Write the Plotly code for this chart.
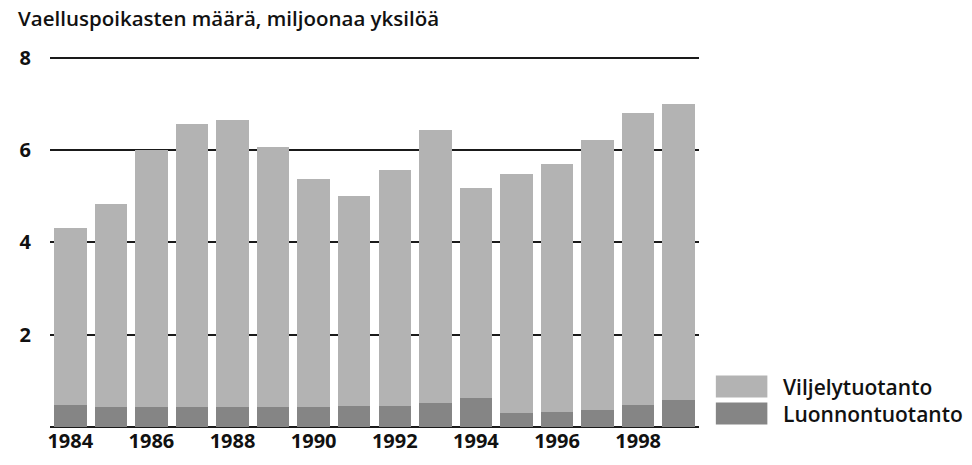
import plotly.graph_objects as go

years = list(range(1984, 2000))
total = [4.31, 4.83, 6.00, 6.56, 6.65, 6.06, 5.37, 5.00, 5.56, 6.43, 5.17, 5.48, 5.69, 6.23, 6.80, 7.01]
luonnon = [0.48, 0.44, 0.44, 0.44, 0.43, 0.44, 0.44, 0.45, 0.46, 0.52, 0.62, 0.31, 0.32, 0.37, 0.48, 0.58]
viljely = [round(t - w, 2) for t, w in zip(total, luonnon)]
x_ticks = [1984, 1986, 1988, 1990, 1992, 1994, 1996, 1998]
y_ticks = [2, 4, 6, 8]

LIGHT = "#b3b3b3"
DARK = "#858585"
FONT = "Open Sans"
TXT = "#111111"

fig = go.Figure()
fig.add_trace(go.Bar(x=years, y=luonnon, name="Luonnontuotanto", marker={"color": DARK, "line": {"width": 0}}))
fig.add_trace(go.Bar(x=years, y=viljely, name="Viljelytuotanto", marker={"color": LIGHT, "line": {"width": 0}}))

# pixel helpers (the page body adds an 8px offset, so everything is shifted 8px up/left)
plot_left, plot_w = 36, 655
plot_top, plot_h = 43, 376.5
def paper_x(px):
    return (px - plot_left) / plot_w
def paper_y(px):
    return (plot_top + plot_h - px) / plot_h

# hand-made legend: big swatches like the original print
legend_items = [("Viljelytuotanto", LIGHT, 379), ("Luonnontuotanto", DARK, 406)]
for label, color, yc in legend_items:
    fig.add_shape(type="rect", xref="paper", yref="paper",
                  x0=paper_x(708), x1=paper_x(760), y0=paper_y(yc + 11), y1=paper_y(yc - 11),
                  fillcolor=color, line={"width": 0})
    fig.add_annotation(text=label, xref="paper", yref="paper", x=paper_x(774), y=paper_y(yc),
                       xanchor="left", yanchor="middle", showarrow=False,
                       font={"family": FONT, "size": 21, "color": TXT, "weight": 600})

fig.add_annotation(text="Vaelluspoikasten määrä, miljoonaa yksilöä",
                   xref="paper", yref="paper", x=paper_x(2), y=paper_y(10),
                   xanchor="left", yanchor="middle", showarrow=False,
                   font={"family": FONT, "size": 20.5, "color": TXT, "weight": 600})

fig.update_layout(
    width=972, height=465,
    barmode="stack", bargap=0.2,
    showlegend=False,
    plot_bgcolor="white", paper_bgcolor="white",
    margin={"l": plot_left, "r": 972 - plot_left - plot_w, "t": plot_top, "b": 465 - plot_top - plot_h},
    xaxis={"tickvals": x_ticks, "range": [1983.5, 1999.5], "showgrid": False,
           "ticks": "", "showline": False, "zeroline": False,
           "tickfont": {"family": FONT, "size": 20, "color": TXT, "weight": 700}},
    yaxis={"tickvals": y_ticks, "range": [0, 8.15], "showgrid": True,
           "gridcolor": "#1a1a1a", "gridwidth": 1.5,
           "zeroline": True, "zerolinecolor": "#1a1a1a", "zerolinewidth": 1.5,
           "ticklabelstandoff": 18,
           "tickfont": {"family": FONT, "size": 20, "color": TXT, "weight": 700}},
)

fig.write_html("out.html")
